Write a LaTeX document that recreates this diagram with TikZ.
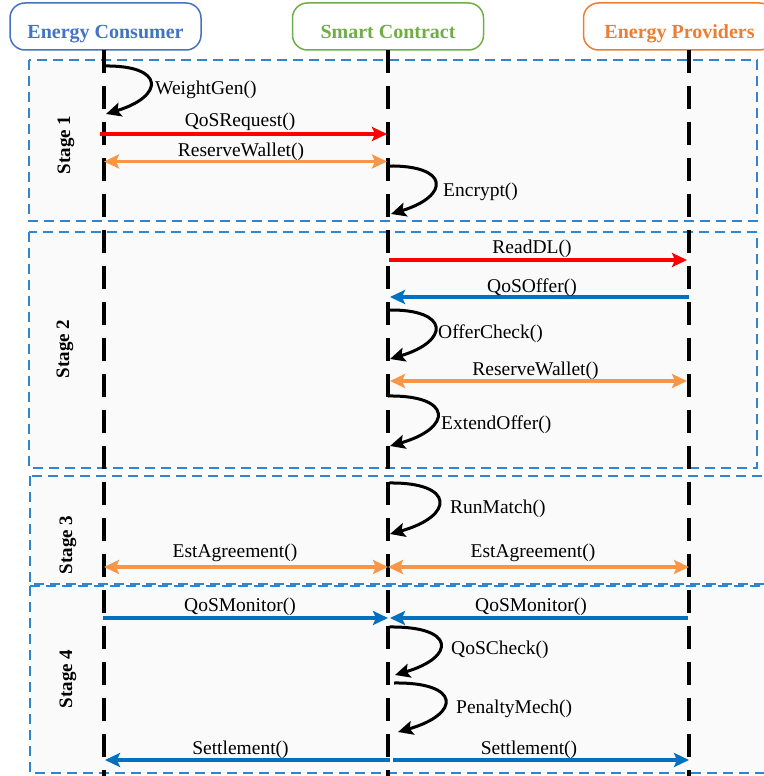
\documentclass[tikz,border=0pt]{standalone}
\usepackage{fontspec}
\setmainfont{Liberation Serif}
\usetikzlibrary{arrows.meta}
\definecolor{hblue}{HTML}{4472C4}
\definecolor{hgreen}{HTML}{70AD47}
\definecolor{horange}{HTML}{ED7D31}
\definecolor{mred}{HTML}{FF0000}
\definecolor{morange}{HTML}{F79646}
\definecolor{mblue}{HTML}{0070C0}
\definecolor{stagefill}{HTML}{FAFAFA}
\definecolor{stageline}{HTML}{2E86D0}
\begin{document}
\begin{tikzpicture}[x=1pt,y=-1pt,
  header/.style={draw, rounded corners=15pt, line width=1.5pt, minimum width=191pt, minimum height=47pt, inner sep=0pt},
  htext/.style={font=\fontsize{20}{22}\selectfont\bfseries, inner sep=0pt, anchor=base},
  stagebox/.style={draw=stageline, fill=stagefill, dash pattern=on 10pt off 6pt, line width=1.3pt},
  lifeline/.style={line width=3.2pt, dash pattern=on 23pt off 13pt},
  msg/.style={line width=3.3pt, -{Stealth[length=15pt,width=14pt,inset=3pt]}},
  dmsg/.style={line width=3.3pt, {Stealth[length=15pt,width=14pt,inset=3pt]}-{Stealth[length=15pt,width=14pt,inset=3pt]}},
  selfcall/.style={line width=3pt, black, -{Stealth[length=15pt,width=14pt,inset=3pt]}},
  lbl/.style={font=\fontsize{19.5}{21}\selectfont, inner sep=0pt, anchor=base},
  llbl/.style={font=\fontsize{19.5}{21}\selectfont, inner sep=0pt, anchor=base west},
  stagelbl/.style={font=\fontsize{19}{21}\selectfont\bfseries, rotate=90, inner sep=0pt}
]
\useasboundingbox (0,0) rectangle (763,776);

% stage boxes
\draw[stagebox] (29,60) rectangle (757,221);
\draw[stagebox] (29,232) rectangle (757,468);
\draw[stagebox] (30,476) rectangle (768,584);
\draw[stagebox] (30,586) rectangle (768,773);

\node[stagelbl] (st1) at (66,145) {Stage 1};
\node[stagelbl] (st2) at (65,349) {Stage 2};
\node[stagelbl] (st3) at (68,545) {Stage 3};
\node[stagelbl] (st4) at (68,679) {Stage 4};

% headers
\node[header, draw=hblue] (ec) at (105.5,26.5) {};
\node[htext, text=hblue] (ect) at (105.5,39) {Energy Consumer};
\node[header, draw=hgreen] (sc) at (388,26.5) {};
\node[htext, text=hgreen] (sct) at (388,39) {Smart Contract};
\node[header, draw=horange] (ep) at (679,26.5) {};
\node[htext, text=horange] (ept) at (679.5,39) {Energy Providers};

% lifelines
\coordinate (ectop) at (104,50);  \coordinate (ecbot) at (104,780);
\coordinate (sctop) at (388,50);  \coordinate (scbot) at (388,780);
\coordinate (eptop) at (689,50);  \coordinate (epbot) at (689,780);
\draw[lifeline] (ectop) -- (ecbot);
\draw[lifeline] (sctop) -- (scbot);
\draw[lifeline] (eptop) -- (epbot);

% ---------- Stage 1
\coordinate (w1a) at (104,66); \coordinate (w1b) at (106,114);
\draw[selfcall] (w1a) .. controls (165,65) and (165,96) .. (w1b);
\node[llbl] (w1l) at (155,94) {WeightGen()};

\coordinate (q1a) at (100,134); \coordinate (q1b) at (387,134);
\draw[msg, mred] (q1a) -- (q1b);
\node[lbl] (q1l) at (240,126) {QoSRequest()};

\coordinate (r1a) at (104,161.5); \coordinate (r1b) at (387,161.5);
\draw[dmsg, morange] (r1a) -- (r1b);
\node[lbl] (r1l) at (241,156) {ReserveWallet()};

\coordinate (e1a) at (388,166); \coordinate (e1b) at (391,214);
\draw[selfcall] (e1a) .. controls (450,165) and (450,196) .. (e1b);
\node[llbl] (e1l) at (443,196) {Encrypt()};

% ---------- Stage 2
\coordinate (d2a) at (389,260); \coordinate (d2b) at (687,260);
\draw[msg, mred] (d2a) -- (d2b);
\node[lbl] (d2l) at (532,253) {ReadDL()};

\coordinate (o2a) at (689,297); \coordinate (o2b) at (390,297);
\draw[msg, mblue] (o2a) -- (o2b);
\node[lbl] (o2l) at (532,292) {QoSOffer()};

\coordinate (c2a) at (388,310); \coordinate (c2b) at (390,359);
\draw[selfcall] (c2a) .. controls (450,309) and (450,341) .. (c2b);
\node[llbl] (c2l) at (438,338) {OfferCheck()};

\coordinate (r2a) at (390,381); \coordinate (r2b) at (687,381);
\draw[dmsg, morange] (r2a) -- (r2b);
\node[lbl] (r2l) at (535.5,375) {ReserveWallet()};

\coordinate (x2a) at (388,396); \coordinate (x2b) at (390,446);
\draw[selfcall] (x2a) .. controls (453,395) and (453,428) .. (x2b);
\node[llbl] (x2l) at (441,429) {ExtendOffer()};

% ---------- Stage 3
\coordinate (m3a) at (389,483); \coordinate (m3b) at (390,534);
\draw[selfcall] (m3a) .. controls (455,482) and (455,516) .. (m3b);
\node[llbl] (m3l) at (450,513) {RunMatch()};

\coordinate (a3a) at (104,567); \coordinate (a3b) at (388,567);
\draw[dmsg, morange] (a3a) -- (a3b);
\node[lbl] (a3l) at (235,557) {EstAgreement()};

\coordinate (b3a) at (388,567); \coordinate (b3b) at (689,567);
\draw[dmsg, morange] (b3a) -- (b3b);
\node[lbl] (b3l) at (533,557) {EstAgreement()};

% ---------- Stage 4
\coordinate (q4a) at (103,618); \coordinate (q4b) at (388,618);
\draw[msg, mblue] (q4a) -- (q4b);
\node[lbl] (q4l) at (240,611) {QoSMonitor()};

\coordinate (p4a) at (688,618); \coordinate (p4b) at (390,618);
\draw[msg, mblue] (p4a) -- (p4b);
\node[lbl] (p4l) at (531,611) {QoSMonitor()};

\coordinate (k4a) at (389,627); \coordinate (k4b) at (395,675);
\draw[selfcall] (k4a) .. controls (456,626) and (456,657) .. (k4b);
\node[llbl] (k4l) at (451,654) {QoSCheck()};

\coordinate (n4a) at (394,683); \coordinate (n4b) at (398,732);
\draw[selfcall] (n4a) .. controls (461,682) and (461,714) .. (n4b);
\node[llbl] (n4l) at (456,713) {PenaltyMech()};

\coordinate (s4a) at (390,760); \coordinate (s4b) at (105,760);
\draw[msg, mblue] (s4a) -- (s4b);
\node[lbl] (s4l) at (240.5,754) {Settlement()};

\coordinate (t4a) at (393,760); \coordinate (t4b) at (689,760);
\draw[msg, mblue] (t4a) -- (t4b);
\node[lbl] (t4l) at (529,754) {Settlement()};
\end{tikzpicture}
\end{document}
